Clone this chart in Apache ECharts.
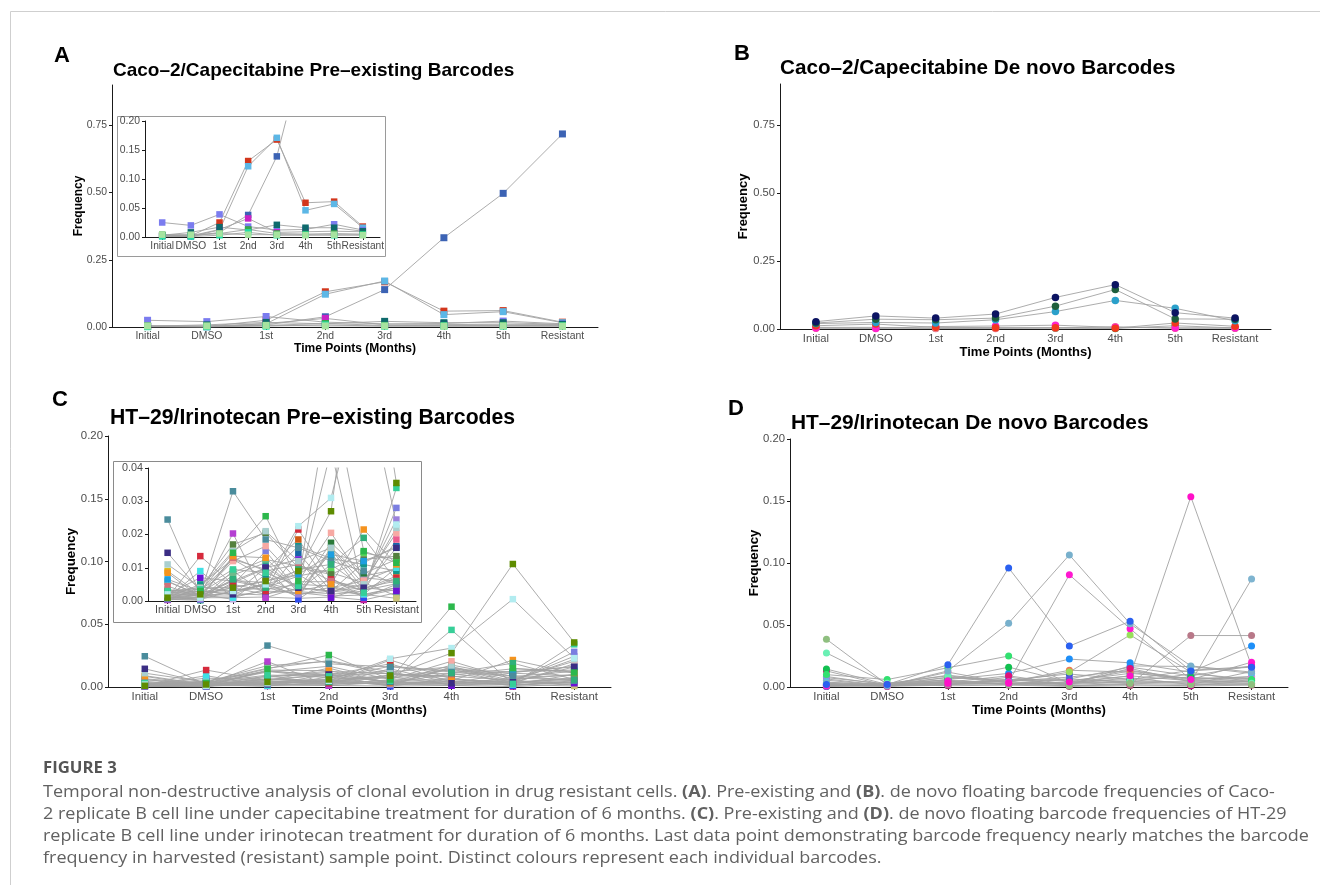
<!DOCTYPE html>
<html>
<head>
<meta charset="utf-8">
<script src="https://cdn.jsdelivr.net/npm/echarts@6/dist/echarts.min.js"></script>
<style>
  html, body { margin: 0; padding: 0; background: #fff; }
  #chart { width: 1320px; height: 885px; }
</style>
</head>
<body>
<div id="chart"></div>
<script>
const timePoints = ['Initial', 'DMSO', '1st', '2nd', '3rd', '4th', '5th', 'Resistant'];

// A: Caco-2 / capecitabine, pre-existing barcodes (one row per barcode)
const aColors = ['#3c63b4', '#d2361c', '#5cb7e6', '#7b7cef', '#c923c4', '#0e6a6c', '#3aa64a', '#22dfa6', '#a6e39f'];
const aFreq = [
  [0.002, 0.001, 0.008, 0.038, 0.139, 0.332, 0.497, 0.718],
  [0.003, 0.002, 0.025, 0.131, 0.168, 0.059, 0.061, 0.018],
  [0.002, 0.001, 0.012, 0.122, 0.171, 0.046, 0.057, 0.016],
  [0.025, 0.020, 0.039, 0.018, 0.012, 0.013, 0.022, 0.012],
  [0.002, 0.002, 0.013, 0.032, 0.008, 0.009, 0.010, 0.009],
  [0.003, 0.008, 0.017, 0.012, 0.021, 0.016, 0.016, 0.010],
  [0.004, 0.003, 0.006, 0.013, 0.006, 0.005, 0.006, 0.005],
  [0.001, 0.001, 0.003, 0.008, 0.003, 0.004, 0.003, 0.004],
  [0.004, 0.004, 0.006, 0.004, 0.004, 0.003, 0.004, 0.003]
];

// B: Caco-2 / capecitabine, de novo barcodes
const bColors = ['#2fa043', '#f07a90', '#ff22cc', '#f2391d', '#2aa0ca', '#1d5e3c', '#0c1462'];
const bFreq = [
  [0.006, 0.006, 0.003, 0.004, 0.003, 0.002, 0.012, 0.004],
  [0.003, 0.003, 0.002, 0.002, 0.004, 0.008, 0.003, 0.003],
  [0.004, 0.002, 0.009, 0.011, 0.014, 0.006, 0.004, 0.004],
  [0.012, 0.018, 0.006, 0.005, 0.005, 0.003, 0.022, 0.010],
  [0.020, 0.024, 0.022, 0.034, 0.064, 0.105, 0.076, 0.030],
  [0.022, 0.036, 0.034, 0.040, 0.084, 0.145, 0.037, 0.036],
  [0.027, 0.048, 0.040, 0.055, 0.116, 0.163, 0.060, 0.040]
];

// C: HT-29 / irinotecan, pre-existing barcodes
const cColors = ['#2f5060', '#c020a0', '#2aa58a', '#e8606a', '#d8c020', '#c8b0e8', '#7fe0c0', '#2a7a3a',
  '#2b4cf0', '#6dba8a', '#1565a8', '#cbc37a', '#5ad65a', '#12968a', '#cf5a12', '#ec5d8e', '#9b82dc',
  '#7a7ee0', '#f7a9a3', '#55803f', '#b43fd2', '#6a12d6', '#3fe0e6', '#d62a3c', '#d0707a', '#1e9ee0',
  '#f5931e', '#a9cfcf', '#3b2d84', '#4a8c9c', '#2eb07a', '#36cf98', '#2cb84c', '#b2ecf0', '#5e8c00'];
const cFreq = [
  [0.0022, 0.0042, 0.0028, 0.0048, 0.0018, 0.0042, 0.0015, 0.0035],
  [0.0003, 0.0010, 0.0010, 0.0012, 0.0008, 0.0012, 0.0003, 0.0025],
  [0.0005, 0.0002, 0.0078, 0.0115, 0.0028, 0.0022, 0.0075, 0.0095],
  [0.0058, 0.0018, 0.0022, 0.0018, 0.0058, 0.0058, 0.0032, 0.0052],
  [0.0090, 0.0020, 0.0062, 0.0055, 0.0012, 0.0155, 0.0035, 0.0075],
  [0.0035, 0.0020, 0.0005, 0.0080, 0.0015, 0.0160, 0.0070, 0.0060],
  [0.0060, 0.0015, 0.0015, 0.0030, 0.0025, 0.0015, 0.0018, 0.0040],
  [0.0012, 0.0005, 0.0090, 0.0022, 0.0035, 0.0175, 0.0083, 0.0125],
  [0.0010, 0.0005, 0.0055, 0.0098, 0.0005, 0.0070, 0.0010, 0.0050],
  [0.0015, 0.0025, 0.0085, 0.0125, 0.0105, 0.0085, 0.0055, 0.0015],
  [0.0005, 0.0040, 0.0040, 0.0020, 0.0145, 0.0030, 0.0115, 0.0165],
  [0.0025, 0.0030, 0.0020, 0.0055, 0.0030, 0.0145, 0.0020, 0.0008],
  [0.0030, 0.0015, 0.0060, 0.0040, 0.0075, 0.0095, 0.0145, 0.0125],
  [0.0010, 0.0050, 0.0125, 0.0070, 0.0165, 0.0128, 0.0110, 0.0090],
  [0.0010, 0.0030, 0.0125, 0.0095, 0.0185, 0.0040, 0.0060, 0.0100],
  [0.0010, 0.0020, 0.0040, 0.0060, 0.0080, 0.0020, 0.0030, 0.0185],
  [0.0005, 0.0005, 0.0030, 0.0040, 0.0020, 0.0030, 0.0050, 0.0245],
  [0.0010, 0.0010, 0.0050, 0.0150, 0.0030, 0.0110, 0.0040, 0.0280],
  [0.0020, 0.0020, 0.0120, 0.0165, 0.0060, 0.0205, 0.0060, 0.0205],
  [0.0030, 0.0040, 0.0170, 0.0205, 0.0100, 0.0080, 0.0125, 0.0135],
  [0.0005, 0.0020, 0.0203, 0.0010, 0.0040, 0.0030, 0.0020, 0.0040],
  [0.0020, 0.0070, 0.0060, 0.0100, 0.0125, 0.0010, 0.0040, 0.0030],
  [0.0010, 0.0090, 0.0010, 0.0035, 0.0050, 0.0045, 0.0020, 0.0100],
  [0.0010, 0.0135, 0.0050, 0.0030, 0.0215, 0.0065, 0.0030, 0.0070],
  [0.0045, 0.0010, 0.0130, 0.0090, 0.0110, 0.0060, 0.0040, 0.0060],
  [0.0065, 0.0030, 0.0030, 0.0050, 0.0080, 0.0140, 0.0120, 0.0160],
  [0.0085, 0.0010, 0.0135, 0.0130, 0.0030, 0.0050, 0.0215, 0.0110],
  [0.0110, 0.0040, 0.0150, 0.0210, 0.0120, 0.0160, 0.0050, 0.0220],
  [0.0145, 0.0030, 0.0020, 0.0100, 0.0040, 0.0030, 0.0040, 0.0160],
  [0.0245, 0.0020, 0.0330, 0.0185, 0.0160, 0.0120, 0.0090, 0.0050],
  [0.0008, 0.0012, 0.0065, 0.0040, 0.0095, 0.0110, 0.0190, 0.0060],
  [0.0030, 0.0035, 0.0095, 0.0085, 0.0045, 0.0455, 0.0025, 0.0340],
  [0.0020, 0.0030, 0.0145, 0.0255, 0.0060, 0.0640, 0.0150, 0.0115],
  [0.0020, 0.0010, 0.0030, 0.0050, 0.0225, 0.0310, 0.0700, 0.0230],
  [0.0010, 0.0020, 0.0040, 0.0060, 0.0090, 0.0270, 0.0980, 0.0355]
];

// D: HT-29 / irinotecan, de novo barcodes
const dColors = ['#a06070', '#c0108a', '#f5a000', '#20b0a0', '#ff60a0', '#40c070', '#9090e0', '#f070e0',
  '#3050d8', '#50c0f0', '#6050e0', '#f07a50', '#1e8ff8', '#7eb4d0', '#b87888', '#98e05a', '#e0147a',
  '#12c050', '#32e070', '#6af0b4', '#8fbf7f', '#ff18d0', '#ff10c8', '#78b0cc', '#2a60f0'];
const dFreq = [
  [0.0005, 0.0020, 0.0010, 0.0015, 0.0005, 0.0010, 0.0008, 0.0015],
  [0.0015, 0.0005, 0.0015, 0.0080, 0.0010, 0.0020, 0.0010, 0.0050],
  [0.0065, 0.0010, 0.0020, 0.0030, 0.0020, 0.0040, 0.0030, 0.0030],
  [0.0035, 0.0025, 0.0075, 0.0060, 0.0050, 0.0110, 0.0070, 0.0080],
  [0.0055, 0.0010, 0.0120, 0.0030, 0.0025, 0.0075, 0.0020, 0.0125],
  [0.0085, 0.0015, 0.0045, 0.0025, 0.0065, 0.0040, 0.0105, 0.0065],
  [0.0075, 0.0025, 0.0095, 0.0045, 0.0080, 0.0135, 0.0065, 0.0070],
  [0.0020, 0.0030, 0.0055, 0.0020, 0.0040, 0.0130, 0.0058, 0.0085],
  [0.0010, 0.0015, 0.0030, 0.0055, 0.0105, 0.0060, 0.0135, 0.0165],
  [0.0040, 0.0010, 0.0020, 0.0060, 0.0020, 0.0170, 0.0165, 0.0110],
  [0.0005, 0.0010, 0.0020, 0.0050, 0.0065, 0.0160, 0.0090, 0.0170],
  [0.0010, 0.0020, 0.0040, 0.0040, 0.0135, 0.0120, 0.0050, 0.0040],
  [0.0020, 0.0010, 0.0060, 0.0110, 0.0225, 0.0195, 0.0120, 0.0330],
  [0.0020, 0.0010, 0.0030, 0.0020, 0.0030, 0.0040, 0.0040, 0.0870],
  [0.0010, 0.0010, 0.0020, 0.0030, 0.0010, 0.0020, 0.0415, 0.0415],
  [0.0030, 0.0010, 0.0080, 0.0040, 0.0120, 0.0420, 0.0120, 0.0040],
  [0.0130, 0.0010, 0.0040, 0.0090, 0.0020, 0.0150, 0.0040, 0.0050],
  [0.0145, 0.0020, 0.0060, 0.0160, 0.0040, 0.0060, 0.0080, 0.0040],
  [0.0100, 0.0060, 0.0155, 0.0250, 0.0030, 0.0090, 0.0050, 0.0060],
  [0.0275, 0.0030, 0.0090, 0.0040, 0.0030, 0.0050, 0.0040, 0.0030],
  [0.0385, 0.0020, 0.0040, 0.0020, 0.0010, 0.0030, 0.0020, 0.0020],
  [0.0010, 0.0010, 0.0050, 0.0040, 0.0905, 0.0470, 0.0060, 0.0200],
  [0.0020, 0.0020, 0.0030, 0.0030, 0.0040, 0.0090, 0.1535, 0.0170],
  [0.0030, 0.0010, 0.0130, 0.0515, 0.1065, 0.0510, 0.0170, 0.0120],
  [0.0020, 0.0020, 0.0180, 0.0960, 0.0330, 0.0530, 0.0130, 0.0160]
];

const yTicksBig = [0, 0.25, 0.5, 0.75];
const yTicksC = [0, 0.05, 0.1, 0.15, 0.2];
const yTicksAInset = [0, 0.05, 0.1, 0.15, 0.2];
const yTicksCInset = [0, 0.01, 0.02, 0.03, 0.04];

const font = 'Liberation Sans, Arial, Helvetica, sans-serif';
const capFont = 'Open Sans, Lato, sans-serif';
const xPos = [1, 2, 3, 4, 5, 6, 7, 8];

function xAxis (grid, fs, name, gap, nameFs, z) {
  return {
    type: 'value', gridIndex: grid, min: 0.4, max: 8.6, z: z,
    axisLine: { onZero: false, lineStyle: { color: '#1a1a1a', width: 1 } },
    axisTick: { customValues: xPos, length: 3, lineStyle: { color: '#1a1a1a' } },
    axisLabel: {
      customValues: xPos, margin: 4, fontSize: fs, color: '#4d4d4d', fontFamily: font,
      showMinLabel: true, showMaxLabel: true, hideOverlap: false,
      formatter: v => timePoints[Math.round(v) - 1]
    },
    splitLine: { show: false },
    name: name, nameLocation: 'middle', nameGap: gap, nameMoveOverlap: false,
    nameTextStyle: { fontSize: nameFs, fontWeight: 'bold', color: '#000', fontFamily: font }
  }
}

function yAxis (grid, max, ticks, fs, name, gap, nameFs, z) {
  return {
    type: 'value', gridIndex: grid, min: 0, max: max, z: z,
    axisLine: { show: true, onZero: false, lineStyle: { color: '#1a1a1a', width: 1 } },
    axisTick: { show: true, customValues: ticks, length: 3, lineStyle: { color: '#1a1a1a' } },
    axisLabel: {
      customValues: ticks, margin: 5, fontSize: fs, color: '#4d4d4d', fontFamily: font,
      showMinLabel: true, showMaxLabel: true, hideOverlap: false,
      formatter: v => v.toFixed(2)
    },
    splitLine: { show: false },
    name: name, nameLocation: 'middle', nameGap: gap, nameMoveOverlap: false,
    nameTextStyle: { fontSize: nameFs, fontWeight: 'bold', color: '#000', fontFamily: font }
  }
}

const series = []
// lines first (grey), then coloured points on top, like geom_line + geom_point
function addPanel (freq, colors, axisIdx, symbol, size, z, clip) {
  freq.forEach(row => {
    series.push({
      type: 'line', xAxisIndex: axisIdx, yAxisIndex: axisIdx, z: z, clip: clip,
      data: row.map((v, i) => [i + 1, v]),
      symbol: 'none', silent: true,
      lineStyle: { color: '#a3a3a3', width: 0.9 }
    })
  })
  freq.forEach((row, k) => {
    series.push({
      type: 'scatter', xAxisIndex: axisIdx, yAxisIndex: axisIdx, z: z + 1, clip: clip,
      data: row.map((v, i) => [i + 1, v]),
      symbol: symbol, symbolSize: size, silent: true,
      itemStyle: { color: colors[k], opacity: 1 }
    })
  })
}

addPanel(aFreq, aColors, 0, 'rect', 7, 2, false)
addPanel(aFreq, aColors, 1, 'rect', 6.5, 12, true)
addPanel(bFreq, bColors, 2, 'circle', 7.5, 2, false)
addPanel(cFreq, cColors, 3, 'rect', 6.5, 2, false)
addPanel(cFreq, cColors, 4, 'rect', 6.5, 12, true)
addPanel(dFreq, dColors, 5, 'circle', 7, 2, false)

function txt (x, y, text, size, weight, color, family) {
  return {
    type: 'text', x: x, y: y, z: 30,
    style: {
      text: text, fontSize: size, fontWeight: weight, fontFamily: family, fill: color,
      textAlign: 'left', textVerticalAlign: 'middle', align: 'left', verticalAlign: 'middle'
    }
  }
}

// caption font is wider in the original, so stretch the text a little
function capLine (y, text) {
  const el = txt(43, y, text, 16, 'normal', '#616161', capFont)
  el.scaleX = 1.125
  el.style.rich = { b: { fontWeight: 'bold', fontSize: 16, fontFamily: capFont, fill: '#616161' } }
  return el
}

const figLabel = txt(43, 769, 'FIGURE 3', 15.5, 'bold', '#555', capFont)
figLabel.scaleX = 1.08

const chart = echarts.init(document.getElementById('chart'), null, { renderer: 'canvas' })
chart.setOption({
  animation: false,
  backgroundColor: '#fff',
  grid: [
    { left: 112, top: 85, width: 486, height: 242, outerBoundsMode: 'none' },
    { left: 145, top: 121, width: 235, height: 116, outerBoundsMode: 'none' },
    { left: 780, top: 84, width: 491, height: 245, outerBoundsMode: 'none' },
    { left: 108, top: 436, width: 503, height: 251, outerBoundsMode: 'none' },
    { left: 148, top: 468, width: 268, height: 133, outerBoundsMode: 'none' },
    { left: 790, top: 439, width: 498, height: 248, outerBoundsMode: 'none' }
  ],
  xAxis: [
    xAxis(0, 10.4, 'Time Points (Months)', 16, 12, 0),
    xAxis(1, 10.2, '', 0, 9, 11),
    xAxis(2, 11.2, 'Time Points (Months)', 17, 13, 0),
    xAxis(3, 11.4, 'Time Points (Months)', 17, 13.3, 0),
    xAxis(4, 10.8, '', 0, 9, 11),
    xAxis(5, 11.3, 'Time Points (Months)', 17, 13.2, 0)
  ],
  yAxis: [
    yAxis(0, 0.9, yTicksBig, 10.4, 'Frequency', 27, 12, 0),
    yAxis(1, 0.2, yTicksAInset, 10.4, '', 0, 9, 11),
    yAxis(2, 0.9, yTicksBig, 11.2, 'Frequency', 30, 13, 0),
    yAxis(3, 0.2, yTicksC, 11.4, 'Frequency', 30, 13.3, 0),
    yAxis(4, 0.04, yTicksCInset, 10.8, '', 0, 9, 11),
    yAxis(5, 0.2, yTicksC, 11.3, 'Frequency', 29, 13.2, 0)
  ],
  graphic: [
    // figure frame
    { type: 'line', z: 1, shape: { x1: 10.5, y1: 11.5, x2: 1320, y2: 11.5 }, style: { stroke: '#cfcfcf', lineWidth: 1 } },
    { type: 'line', z: 1, shape: { x1: 10.5, y1: 11.5, x2: 10.5, y2: 885 }, style: { stroke: '#cfcfcf', lineWidth: 1 } },
    // inset boxes
    { type: 'rect', z: 10, shape: { x: 117.5, y: 116.5, width: 268, height: 140 }, style: { fill: '#fff', stroke: '#9a9a9a', lineWidth: 1 } },
    { type: 'rect', z: 10, shape: { x: 113.5, y: 461.5, width: 308, height: 161 }, style: { fill: '#fff', stroke: '#8a8a8a', lineWidth: 1 } },
    // panel letters and titles
    txt(54, 56, 'A', 22, 'bold', '#000', font),
    txt(113, 71, 'Caco\u20132/Capecitabine Pre\u2013existing Barcodes', 19, 'bold', '#000', font),
    txt(734, 54, 'B', 22, 'bold', '#000', font),
    txt(780, 68, 'Caco\u20132/Capecitabine De novo Barcodes', 20.7, 'bold', '#000', font),
    txt(52, 400, 'C', 22, 'bold', '#000', font),
    txt(110, 418, 'HT\u201329/Irinotecan Pre\u2013existing Barcodes', 21.2, 'bold', '#000', font),
    txt(728, 409, 'D', 22, 'bold', '#000', font),
    txt(791, 423, 'HT\u201329/Irinotecan De novo Barcodes', 20.9, 'bold', '#000', font),
    // caption
    figLabel,
    capLine(792, 'Temporal non-destructive analysis of clonal evolution in drug resistant cells. {b|(A)}. Pre-existing and {b|(B)}. de novo floating barcode frequencies of Caco-'),
    capLine(814, '2 replicate B cell line under capecitabine treatment for duration of 6 months. {b|(C)}. Pre-existing and {b|(D)}. de novo floating barcode frequencies of HT-29'),
    capLine(836, 'replicate B cell line under irinotecan treatment for duration of 6 months. Last data point demonstrating barcode frequency nearly matches the barcode'),
    capLine(858, 'frequency in harvested (resistant) sample point. Distinct colours represent each individual barcodes.')
  ],
  series: series
})
</script>
</body>
</html>
